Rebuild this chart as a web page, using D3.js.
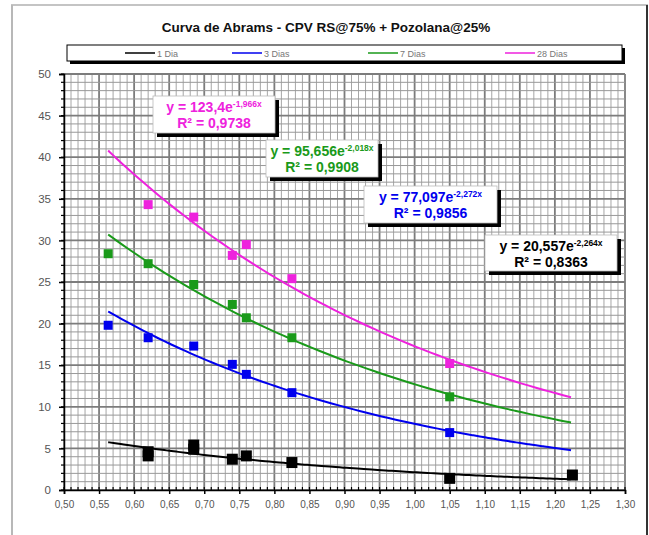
<!DOCTYPE html>
<html lang="pt">
<head>
    <meta charset="UTF-8">
    <title>Curva de Abrams</title>
    <script src="https://cdn.jsdelivr.net/npm/d3@7"></script>
    <style>
        body { margin: 0; background: #fff; font-family: "Liberation Sans", Arial, sans-serif; }
    </style>
</head>
<body>
<svg id="chart" width="649" height="535"></svg>
<script>
// data (x = relacao a/c, y = resistencia MPa)
const seriesNames = ["1 Dia", "3 Dias", "7 Dias", "28 Dias"];
const seriesColors = ["#000000", "#0000ee", "#1a9a1a", "#ee22dd"];

const x1Dia = [0.62, 0.62, 0.685, 0.685, 0.74, 0.76, 0.825, 1.05, 1.225];
const y1Dia = [4.6, 4.1, 5.4, 4.9, 3.7, 4.1, 3.3, 1.4, 1.8];

const x3Dias = [0.563, 0.62, 0.685, 0.74, 0.76, 0.825, 1.05];
const y3Dias = [19.8, 18.3, 17.3, 15.1, 13.9, 11.7, 6.9];

const x7Dias = [0.563, 0.62, 0.685, 0.74, 0.76, 0.825, 1.05];
const y7Dias = [28.4, 27.2, 24.7, 22.3, 20.7, 18.3, 11.2];

const x28Dias = [0.62, 0.685, 0.74, 0.76, 0.825, 1.05];
const y28Dias = [34.3, 32.8, 28.2, 29.5, 25.4, 15.2];

// trendline coefficients shown in the chart: y = a * e^(b x)
const trendA = [20.557, 77.097, 95.656, 123.4];
const trendB = [-2.264, -2.272, -2.018, -1.966];
const trendR2 = ["0,8363", "0,9856", "0,9908", "0,9738"];
const trendLabelA = ["20,557", "77,097", "95,656", "123,4"];
const trendLabelB = ["-2,264x", "-2,272x", "-2,018x", "-1,966x"];

const xTicks = d3.range(0.50, 1.3001, 0.05);
const yTicks = d3.range(0, 51, 5);

const xs = [x1Dia, x3Dias, x7Dias, x28Dias];
const ys = [y1Dia, y3Dias, y7Dias, y28Dias];

const svg = d3.select("#chart");

// outer frame
svg.append("line").attr("x1", 11).attr("x2", 648).attr("y1", 5).attr("y2", 5)
    .style("stroke", "#c4c4c4").style("stroke-width", 2);
svg.append("line").attr("x1", 12).attr("x2", 12).attr("y1", 5).attr("y2", 535)
    .style("stroke", "#b8b8b8").style("stroke-width", 2);
svg.append("line").attr("x1", 647).attr("x2", 647).attr("y1", 5).attr("y2", 535)
    .style("stroke", "#333").style("stroke-width", 2);

// title
svg.append("text")
    .text("Curva de Abrams - CPV RS@75% + Pozolana@25%")
    .attr("x", 326).attr("y", 32)
    .style("font-size", "13.5px").style("font-weight", "bold")
    .style("text-anchor", "middle").style("fill", "#111");

// scales
const x = d3.scaleLinear().domain([0.5, 1.3]).range([64, 625]);
const y = d3.scaleLinear().domain([0, 50]).range([490, 74]);

// grid
const grid = svg.append("g");
d3.range(0, 81).forEach(function(i) {
    const v = 0.5 + i * 0.01;
    const major = i % 5 === 0;
    grid.append("line")
        .attr("x1", x(v)).attr("x2", x(v)).attr("y1", y(50)).attr("y2", y(0))
        .style("stroke", major ? "#7c7c7c" : "#a6a6a6")
        .style("stroke-width", major ? 1.8 : 1);
});
d3.range(0, 51).forEach(function(i) {
    const major = i % 5 === 0;
    grid.append("line")
        .attr("x1", x(0.5)).attr("x2", x(1.3)).attr("y1", y(i)).attr("y2", y(i))
        .style("stroke", major ? "#7c7c7c" : "#999")
        .style("stroke-width", major ? 1.8 : 1);
});

// axes
const fmt = d3.formatLocale({decimal: ",", thousands: ".", grouping: [3], currency: ["", ""]}).format(".2f");

const xAxis = svg.append("g").attr("transform", `translate(0,${y(0)})`)
    .call(d3.axisBottom(x).tickValues(xTicks).tickFormat(fmt).tickSize(4).tickPadding(7));
const yAxis = svg.append("g").attr("transform", `translate(${x(0.5)},0)`)
    .call(d3.axisLeft(y).tickValues(yTicks).tickSize(5).tickPadding(8));

[xAxis, yAxis].forEach(function(a) {
    a.select(".domain").style("stroke", "#000").style("stroke-width", 1.5);
    a.selectAll(".tick line").style("stroke", "#000").style("stroke-width", 1.5);
    a.selectAll(".tick text").style("font-family", "'Liberation Sans', Arial, sans-serif")
        .style("fill", "#555");
});
xAxis.selectAll(".tick text").style("font-size", "10px");
yAxis.selectAll(".tick text").style("font-size", "11.5px");

// minor ticks
d3.range(0, 81).forEach(function(i) {
    const v = 0.5 + i * 0.01;
    svg.append("line").attr("x1", x(v)).attr("x2", x(v)).attr("y1", y(0)).attr("y2", y(0) - 3)
        .style("stroke", "#000").style("stroke-width", 1.2);
});
d3.range(0, 51).forEach(function(i) {
    svg.append("line").attr("x1", x(0.5)).attr("x2", x(0.5) - 3).attr("y1", y(i)).attr("y2", y(i))
        .style("stroke", "#000").style("stroke-width", 1.2);
});

// trendlines
const line = d3.line().x(d => x(d[0])).y(d => y(d[1])).curve(d3.curveBasis);
seriesNames.forEach(function(name, s) {
    const pts = d3.range(0.563, 1.2251, 0.01).map(v => [v, trendA[s] * Math.exp(trendB[s] * v)]);
    svg.append("path").datum(pts)
        .attr("d", line)
        .style("fill", "none")
        .style("stroke", seriesColors[s])
        .style("stroke-width", 2);
});

// data points
seriesNames.forEach(function(name, s) {
    const size = s === 0 ? 11 : 9;
    xs[s].forEach(function(v, i) {
        svg.append("rect")
            .attr("x", x(v) - size / 2)
            .attr("y", y(ys[s][i]) - size / 2)
            .attr("width", size).attr("height", size)
            .style("fill", seriesColors[s]);
    });
});

// legend
svg.append("rect").attr("x", 70).attr("y", 48).attr("width", 555).attr("height", 16).style("fill", "#000");
svg.append("rect").attr("x", 67).attr("y", 45).attr("width", 555).attr("height", 16)
    .style("fill", "#fff").style("stroke", "#000").style("stroke-width", 1);
const legendX = [125, 232, 368, 505];
seriesNames.forEach(function(name, s) {
    svg.append("line").attr("x1", legendX[s]).attr("x2", legendX[s] + 30)
        .attr("y1", 53).attr("y2", 53)
        .style("stroke", seriesColors[s]).style("stroke-width", 1.5);
    svg.append("text").text(name)
        .attr("x", legendX[s] + 32).attr("y", 56.5)
        .style("font-size", "9px").style("fill", "#777");
});

// equation boxes
const boxes = [
    {x: 485, y: 235, w: 132, h: 36},
    {x: 364, y: 186, w: 133, h: 37},
    {x: 266, y: 140, w: 112, h: 37},
    {x: 153, y: 96, w: 122, h: 37}
];
seriesNames.forEach(function(name, s) {
    const b = boxes[s];
    svg.append("rect").attr("x", b.x + 4).attr("y", b.y + 4).attr("width", b.w).attr("height", b.h)
        .style("fill", "#000");
    svg.append("rect").attr("x", b.x).attr("y", b.y).attr("width", b.w).attr("height", b.h)
        .style("fill", "#fff").style("stroke", "#bbb").style("stroke-width", 0.8);
    const cx = b.x + b.w / 2;
    const t1 = svg.append("text")
        .attr("x", cx).attr("y", b.y + 16)
        .style("font-size", "14px").style("font-weight", "bold")
        .style("text-anchor", "middle").style("fill", seriesColors[s]);
    t1.append("tspan").text("y = " + trendLabelA[s] + "e");
    t1.append("tspan").text(trendLabelB[s]).attr("dy", -5).style("font-size", "8.5px");
    svg.append("text").text("R² = " + trendR2[s])
        .attr("x", cx).attr("y", b.y + 32)
        .style("font-size", "14px").style("font-weight", "bold")
        .style("text-anchor", "middle").style("fill", seriesColors[s]);
});
</script>
</body>
</html>
